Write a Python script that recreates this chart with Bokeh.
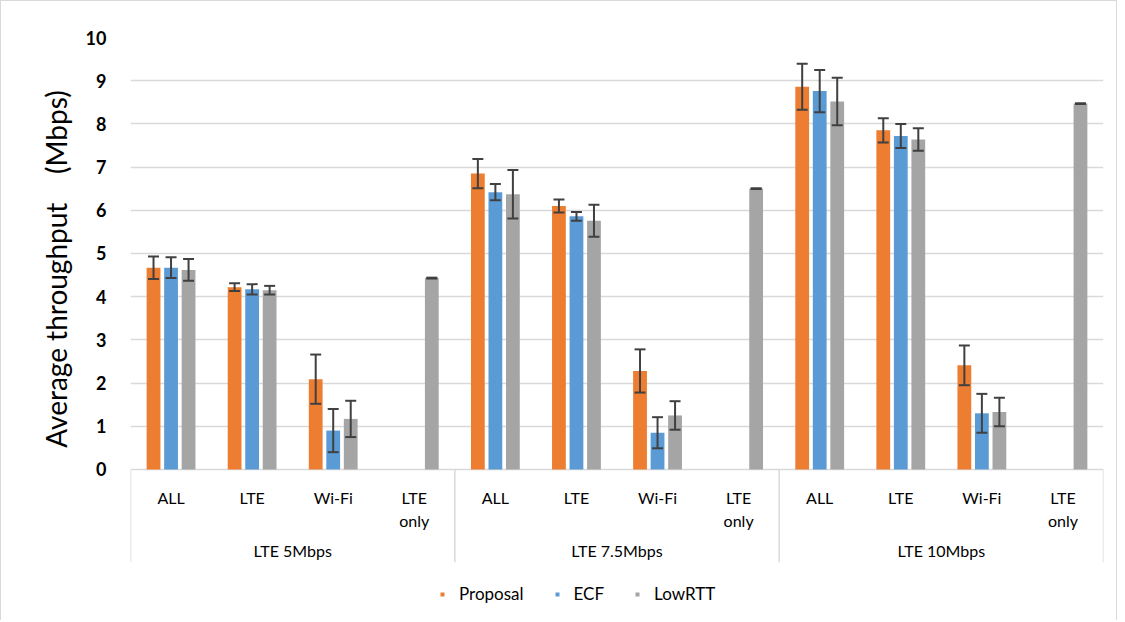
from bokeh.plotting import figure
from bokeh.models import (ColumnDataSource, FactorRange, Range1d, Whisker, TeeHead,
                          Legend, LegendItem, FixedTicker)
from bokeh.core.properties import value
from bokeh.transform import dodge
from bokeh.embed import file_html
from bokeh.resources import INLINE

nan = float("nan")

groups = ["LTE 5Mbps", "LTE 7.5Mbps", "LTE 10Mbps"]
subcats = ["ALL", "LTE", "Wi-Fi", "LTE only"]
sub_labels = ["ALL", "LTE", "Wi-Fi", "LTE\nonly"]

proposal = [4.67, 4.22, 2.09, nan, 6.85, 6.10, 2.28, nan, 8.86, 7.85, 2.41, nan]
proposal_err = [0.26, 0.09, 0.57, nan, 0.34, 0.15, 0.50, nan, 0.53, 0.28, 0.46, nan]
ecf = [4.67, 4.17, 0.90, nan, 6.42, 5.86, 0.85, nan, 8.76, 7.72, 1.30, nan]
ecf_err = [0.24, 0.12, 0.50, nan, 0.19, 0.10, 0.36, nan, 0.49, 0.28, 0.45, nan]
lowrtt = [4.62, 4.15, 1.17, 4.43, 6.37, 5.76, 1.25, 6.50, 8.52, 7.64, 1.33, 8.47]
lowrtt_err = [0.25, 0.10, 0.42, 0.01, 0.56, 0.37, 0.33, 0.01, 0.55, 0.26, 0.33, 0.01]

series = ["Proposal", "ECF", "LowRTT"]
colors = ["#ED7D31", "#5B9BD5", "#A5A5A5"]
y_ticks = list(range(0, 11))
y_title = "\u00a0" * 17 + "Average throughput\u00a0\u00a0\u00a0\u00a0(Mbps)"

FONT = "Lato"

factors = [(g, s) for g in groups for s in subcats]

data = dict(x=factors, label=[lab for g in groups for lab in sub_labels])
for name, vals, errs in [("p", proposal, proposal_err), ("e", ecf, ecf_err), ("l", lowrtt, lowrtt_err)]:
    data[name] = vals
    data[name + "_up"] = [v + e for v, e in zip(vals, errs)]
    data[name + "_lo"] = [v - e for v, e in zip(vals, errs)]
src = ColumnDataSource(data)

p = figure(width=1117, height=620, output_backend="svg", toolbar_location=None,
           x_range=FactorRange(*factors, group_padding=0, range_padding=0),
           y_range=Range1d(-3.52, 10), x_axis_location=None,
           min_border_left=129, min_border_right=15, min_border_top=36, min_border_bottom=0,
           styles={"border-left": "1px solid #d9d9d9", "border-top": "1px solid #d9d9d9",
                   "border-right": "1px solid #d9d9d9"})
p.outline_line_color = None

offsets = [-0.216, 0.0, 0.216]
keys = ["p", "e", "l"]
legend_renderers = []
for key, off, col in zip(keys, offsets, colors):
    p.vbar(x=dodge("x", off, range=p.x_range), top=key, width=0.17, source=src,
           fill_color=col, line_color=None)
    w = Whisker(base=dodge("x", off, range=p.x_range), upper=key + "_up", lower=key + "_lo",
                source=src, line_color="#404040", line_width=2, level="annotation",
                upper_head=TeeHead(size=11, line_color="#404040", line_width=2),
                lower_head=TeeHead(size=11, line_color="#404040", line_width=2))
    p.add_layout(w)
    # legend swatch only (a single undrawn NaN point)
    legend_renderers.append(p.scatter(x=[nan], y=[nan], marker="square", size=10,
                                      fill_color=col, line_color=None))

# y axis
ya = p.yaxis[0]
ya.ticker = FixedTicker(ticks=y_ticks)
ya.axis_line_color = None
ya.major_tick_line_color = None
ya.minor_tick_line_color = None
ya.major_label_standoff = 18
ya.major_label_text_font = FONT
ya.major_label_text_font_style = "bold"
ya.major_label_text_font_size = "18px"
ya.major_label_text_color = "#000000"
ya.axis_label = y_title
ya.axis_label_text_font = FONT
ya.axis_label_text_font_size = "28px"
ya.axis_label_text_font_style = "normal"
ya.axis_label_text_color = "#000000"
ya.axis_label_standoff = 10

p.ygrid.grid_line_color = "#d9d9d9"
p.ygrid.grid_line_width = 1.5
p.xgrid.grid_line_color = None

# category axis drawn in the frame below y = 0
p.text(x="x", y=-0.44, text="label", source=src, text_align="center", text_baseline="top",
       text_font=value(FONT), text_font_size="16px", text_color="#000000", text_line_height=1.2)
group_src = ColumnDataSource(dict(x=[(g, subcats[1], 0.5) for g in groups], label=groups))
p.text(x="x", y=-1.875, text="label", source=group_src, text_align="center",
       text_baseline="middle", text_font=value(FONT), text_font_size="16px", text_color="#000000")
sep_x = [(g, subcats[0], -0.5) for g in groups] + [(groups[-1], subcats[-1], 0.5)]
sep_src = ColumnDataSource(dict(x=sep_x))
p.segment(x0="x", x1="x", y0=0, y1=-2.15, source=sep_src, line_color="#d9d9d9", line_width=1.5)

legend = Legend(items=[LegendItem(label=s, renderers=[r]) for s, r in zip(series, legend_renderers)],
                orientation="horizontal", location=(307, 17), padding=0, margin=0,
                spacing=28, label_standoff=12, glyph_width=10, glyph_height=10,
                label_text_font=FONT, label_text_font_size="17px", label_text_color="#000000",
                border_line_color=None, background_fill_alpha=0)
p.add_layout(legend)

open("out.html", "w").write(file_html(p, INLINE))
